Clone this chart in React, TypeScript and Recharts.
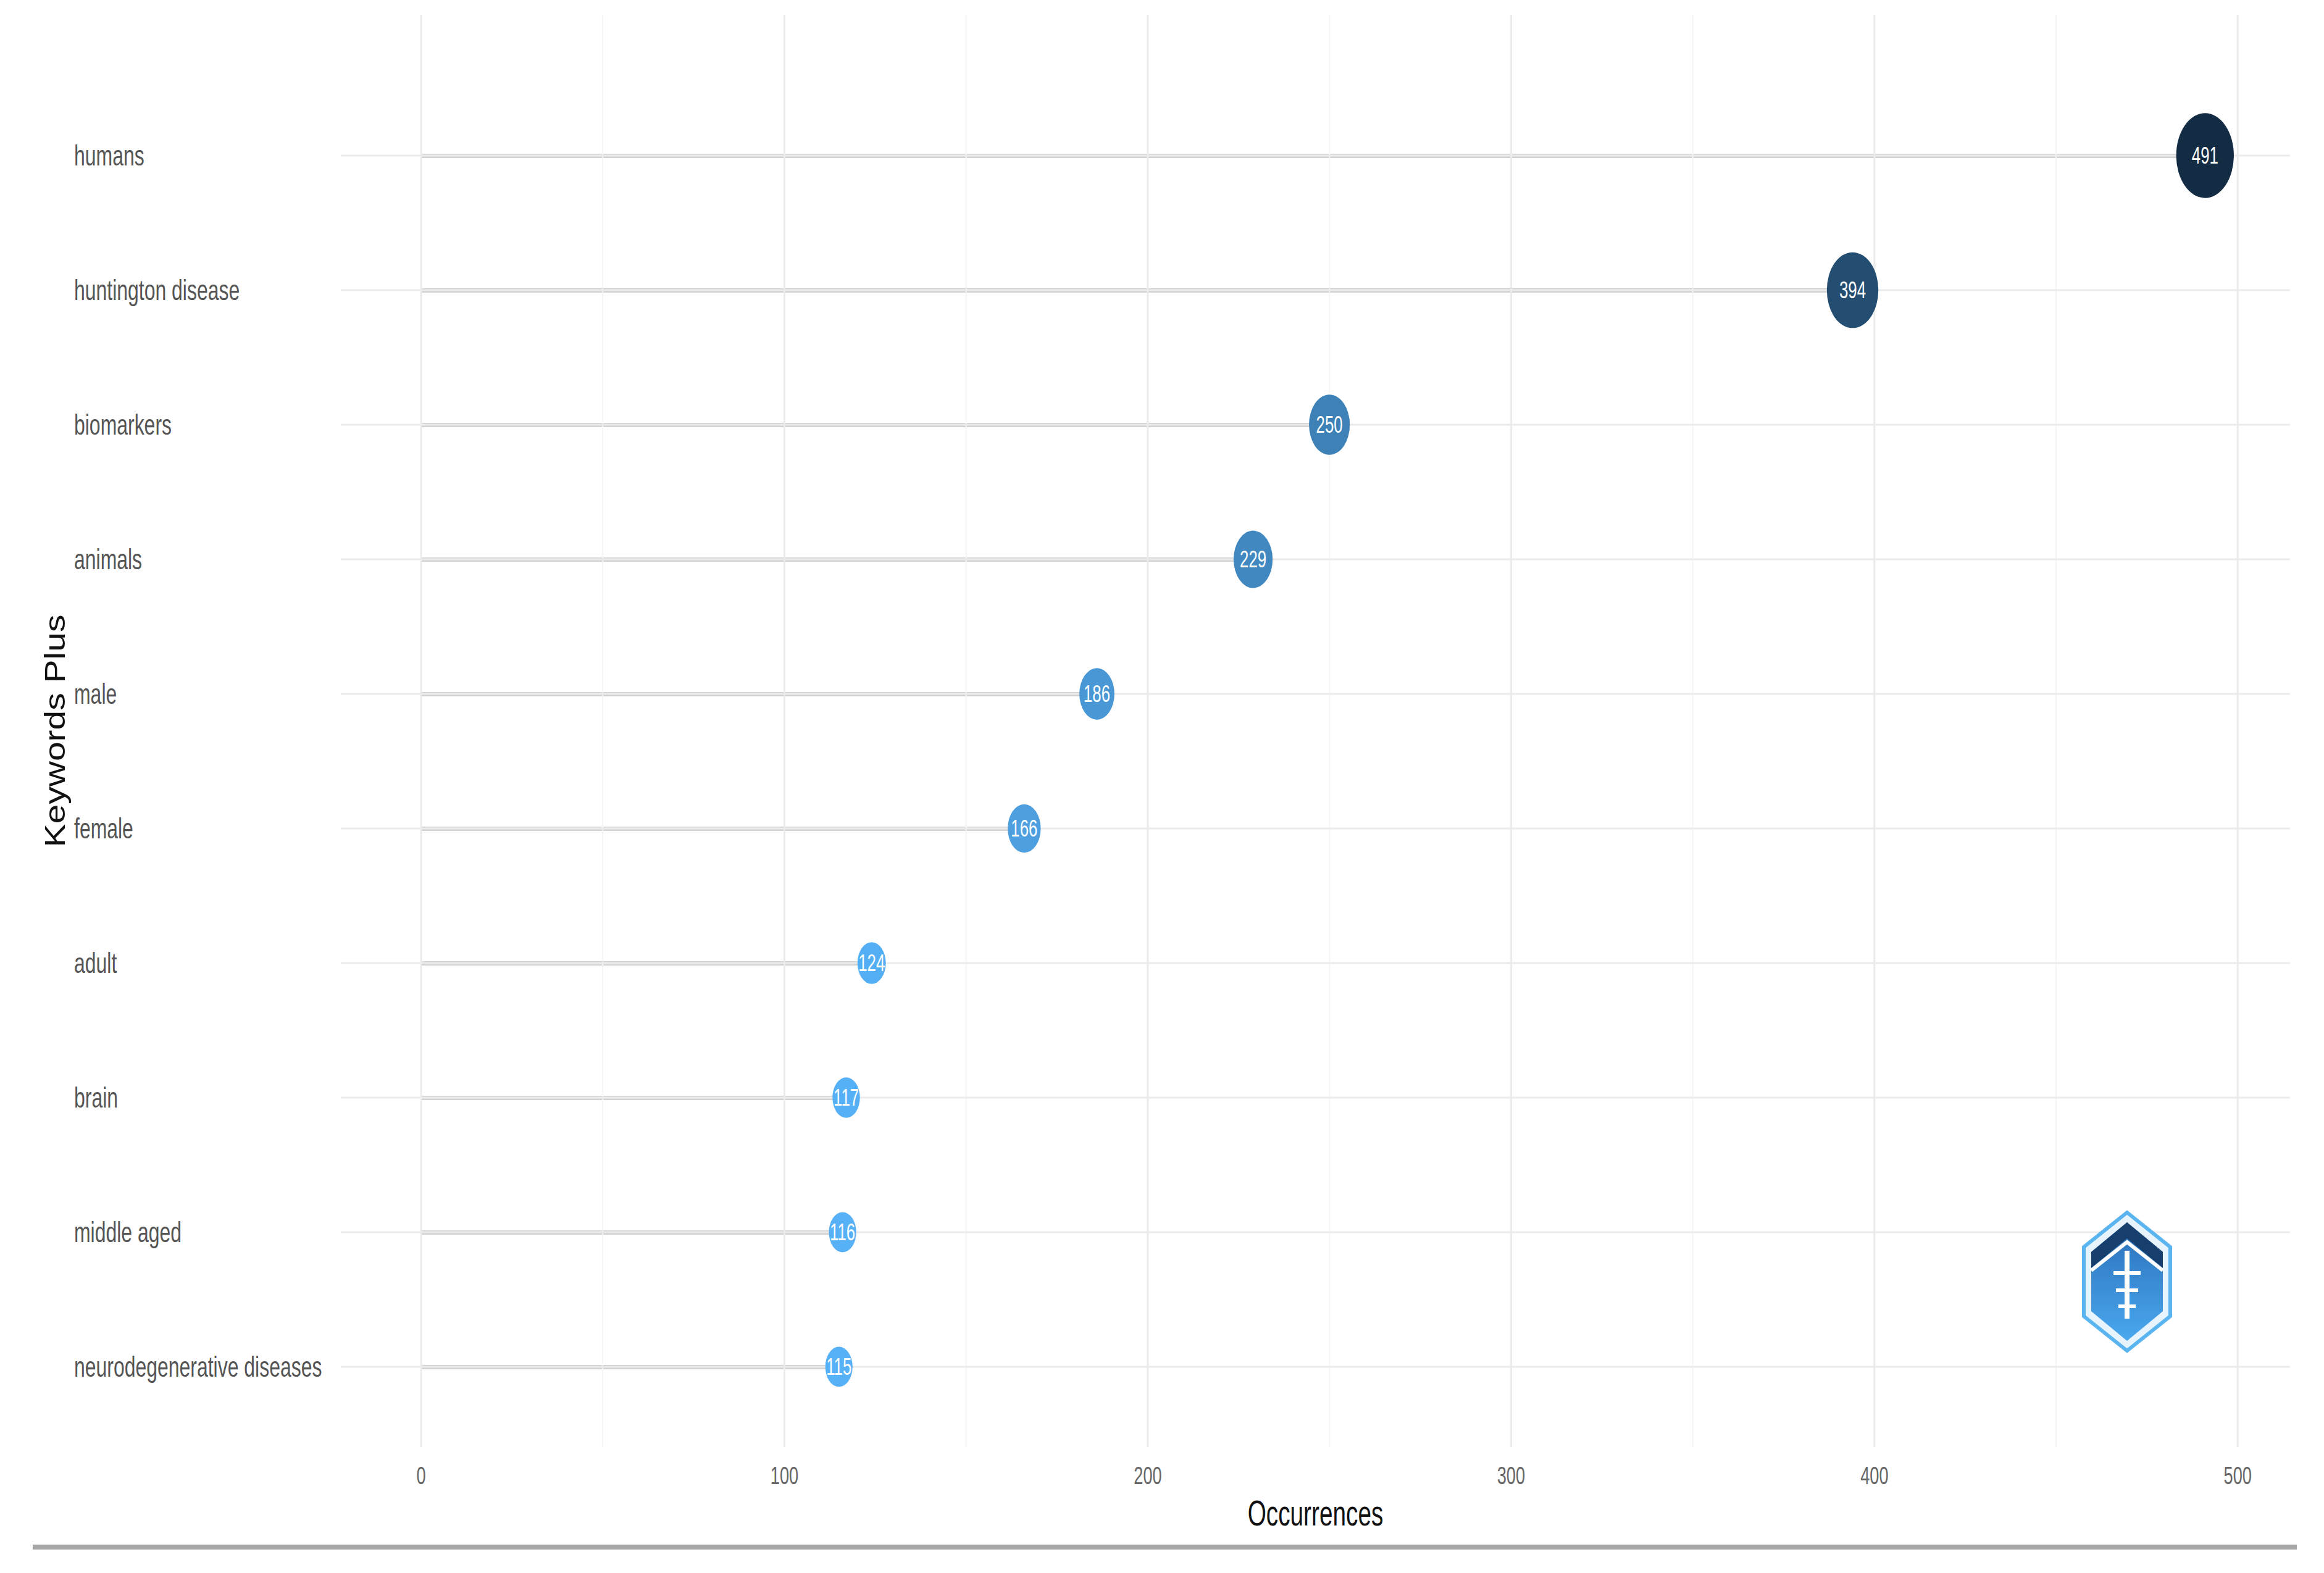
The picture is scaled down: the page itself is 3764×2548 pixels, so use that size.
import {
  ComposedChart,
  Bar,
  Scatter,
  XAxis,
  YAxis,
  ZAxis,
  ReferenceLine,
} from "recharts";

const keywords = [
  "humans",
  "huntington disease",
  "biomarkers",
  "animals",
  "male",
  "female",
  "adult",
  "brain",
  "middle aged",
  "neurodegenerative diseases",
];
const occurrences = [491, 394, 250, 229, 186, 166, 124, 117, 116, 115];
const xTicks = [0, 100, 200, 300, 400, 500];
const xMinorTicks = [50, 150, 250, 350, 450];

const data = keywords.map((keyword, i) => ({ keyword, value: occurrences[i] }));

// the source picture is squashed horizontally
const SQ = 0.68;
const FONT = "'Liberation Sans', Arial, sans-serif";

const minV = Math.min(...occurrences);
const maxV = Math.max(...occurrences);
const LOW = [86, 177, 247];
const HIGH = [19, 43, 67];
const fillFor = (v: number) => {
  const t = (v - minV) / (maxV - minV);
  const c = LOW.map((l, i) => Math.round(l + (HIGH[i] - l) * t));
  return `rgb(${c[0]},${c[1]},${c[2]})`;
};

const Bubble = (props: any) => {
  const { cx, cy, size, payload } = props;
  if (cx == null || cy == null) return null;
  const r = Math.sqrt((size ?? 4000) / Math.PI);
  return (
    <g>
      <ellipse cx={cx} cy={cy} rx={r * SQ} ry={r} fill={fillFor(payload.value)} />
      <text
        transform={`translate(${cx},${cy}) scale(${SQ},1)`}
        textAnchor="middle"
        dominantBaseline="central"
        fill="#ffffff"
        fontSize={38}
        fontFamily={FONT}
      >
        {payload.value}
      </text>
    </g>
  );
};

const YTick = ({ y, payload }: any) => (
  <text
    transform={`translate(120,${y}) scale(${SQ},1)`}
    textAnchor="start"
    dominantBaseline="central"
    fill="#555555"
    fontSize={47}
    fontFamily={FONT}
  >
    {payload.value}
  </text>
);

const XTick = ({ x, y, payload }: any) => (
  <text
    transform={`translate(${x},${y + 38}) scale(${SQ},1)`}
    textAnchor="middle"
    dominantBaseline="central"
    fill="#666666"
    fontSize={40}
    fontFamily={FONT}
  >
    {payload.value}
  </text>
);

const XTitle = ({ viewBox }: any) => (
  <text
    transform={`translate(${viewBox.x + viewBox.width / 2},${viewBox.y + 107}) scale(${SQ},1)`}
    textAnchor="middle"
    dominantBaseline="central"
    fill="#111111"
    fontSize={57}
    fontFamily={FONT}
  >
    Occurrences
  </text>
);

const YTitle = ({ viewBox }: any) => (
  <text
    transform={`translate(89,${viewBox.y + viewBox.height / 2}) scale(0.8,1) rotate(-90)`}
    textAnchor="middle"
    dominantBaseline="central"
    fill="#111111"
    fontSize={57}
    fontFamily={FONT}
  >
    Keywords Plus
  </text>
);

const Logo = () => (
  <svg
    width={160}
    height={240}
    viewBox="-80 -120 160 240"
    style={{ position: "absolute", left: 3365, top: 1956 }}
  >
    <defs>
      <linearGradient id="lg" x1="0" y1="0" x2="0" y2="1">
        <stop offset="0" stopColor="#2a6fb8" />
        <stop offset="1" stopColor="#4aa8ee" />
      </linearGradient>
    </defs>
    <polygon points="0,-112 70,-56 70,56 0,112 -70,56 -70,-56" fill="#e8f4fd" stroke="#5ab4f0" strokeWidth={6} />
    <polygon points="0,-96 58,-48 58,48 0,96 -58,48 -58,-48" fill="url(#lg)" />
    <polygon points="0,-96 58,-48 58,-22 0,-70 -58,-22 -58,-48" fill="#163f6e" />
    <polyline points="-58,-18 0,-64 58,-18" fill="none" stroke="#ffffff" strokeWidth={6} />
    <line x1={0} y1={-50} x2={0} y2={60} stroke="#ffffff" strokeWidth={8} />
    <line x1={-22} y1={-14} x2={22} y2={-14} stroke="#ffffff" strokeWidth={6} />
    <line x1={-18} y1={14} x2={18} y2={14} stroke="#ffffff" strokeWidth={6} />
    <line x1={-14} y1={40} x2={14} y2={40} stroke="#ffffff" strokeWidth={6} />
  </svg>
);

export default function App() {
  return (
    <div style={{ position: "absolute", left: 0, top: 0, width: 3764, height: 2548, background: "#ffffff" }}>
      <ComposedChart
        width={3764}
        height={2548}
        data={data}
        layout="vertical"
        margin={{ top: 24, right: 55, bottom: 44, left: 0 }}
      >
        <XAxis
          type="number"
          domain={[-22.1, 514.4]}
          ticks={xTicks}
          tick={<XTick />}
          tickLine={false}
          axisLine={false}
          height={160}
          allowDataOverflow
          label={<XTitle />}
        />
        <YAxis
          type="category"
          dataKey="keyword"
          width={552}
          tick={<YTick />}
          tickLine={false}
          axisLine={false}
          interval={0}
          padding={{ top: 119, bottom: 21 }}
          label={<YTitle />}
        />
        <ZAxis type="number" dataKey="value" domain={[minV, maxV]} range={[3300, 14800]} />
        {xMinorTicks.map((t) => (
          <ReferenceLine key={`mn${t}`} x={t} stroke="#f5f5f5" strokeWidth={2} />
        ))}
        {xTicks.map((t) => (
          <ReferenceLine key={`mj${t}`} x={t} stroke="#ebebeb" strokeWidth={3} />
        ))}
        {keywords.map((k) => (
          <ReferenceLine key={`h${k}`} y={k} stroke="#ebebeb" strokeWidth={3} />
        ))}
        <Bar dataKey="value" fill="#d2d2d2" barSize={7} isAnimationActive={false} />
        <Scatter dataKey="value" shape={<Bubble />} isAnimationActive={false} />
      </ComposedChart>
      <Logo />
      <div
        style={{
          position: "absolute",
          left: 53,
          top: 2502,
          width: 3667,
          height: 8,
          background: "#a6a6a6",
        }}
      />
    </div>
  );
}
